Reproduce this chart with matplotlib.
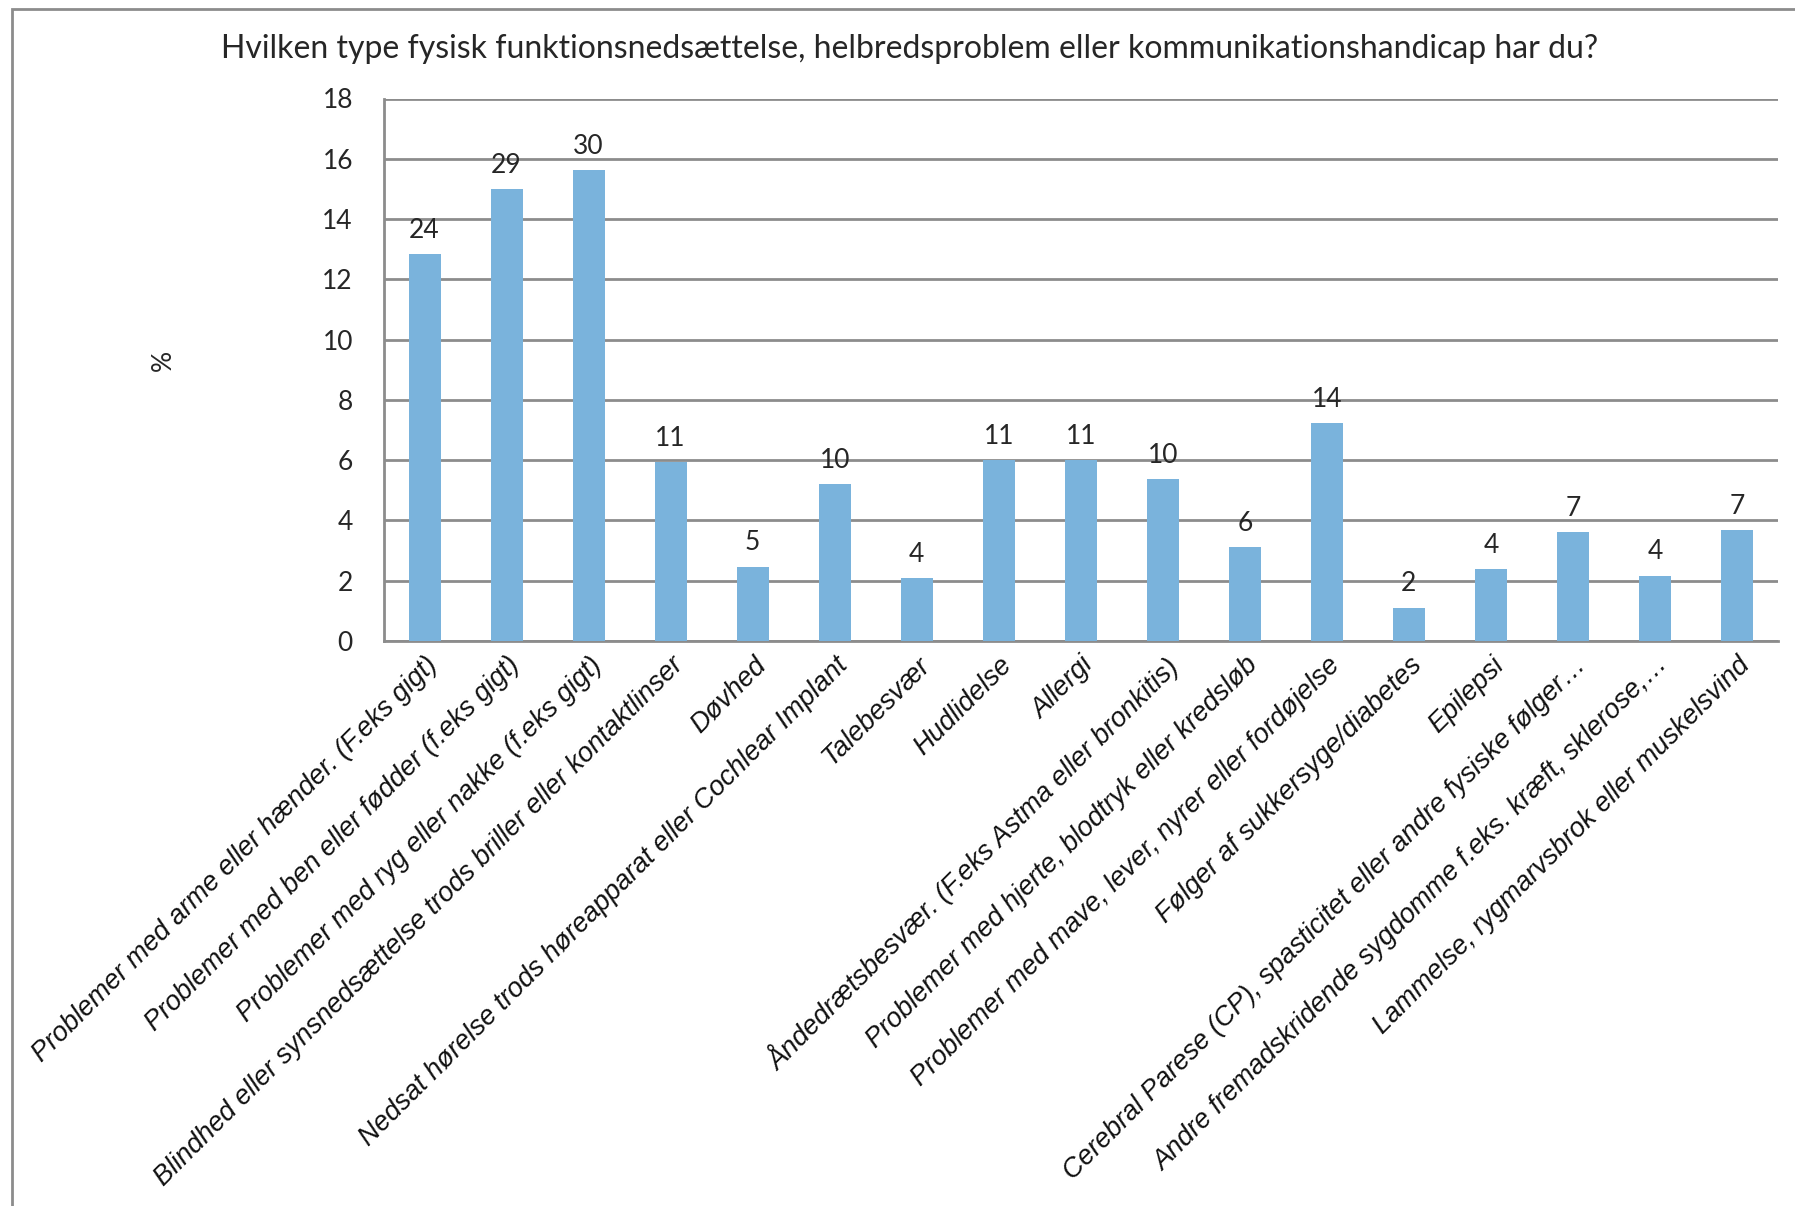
import matplotlib
matplotlib.use("Agg")
import matplotlib.pyplot as plt
from matplotlib.patches import Rectangle

# Answer categories, share of respondents (%) and number of answers per category
categories = [
    "Problemer med arme eller hænder. (F.eks gigt)",
    "Problemer med ben eller fødder (f.eks gigt)",
    "Problemer med ryg eller nakke (f.eks gigt)",
    "Blindhed eller synsnedsættelse trods briller eller kontaktlinser",
    "Døvhed",
    "Nedsat hørelse trods høreapparat eller Cochlear Implant",
    "Talebesvær",
    "Hudlidelse",
    "Allergi",
    "Åndedrætsbesvær. (F.eks Astma eller bronkitis)",
    "Problemer med hjerte, blodtryk eller kredsløb",
    "Problemer med mave, lever, nyrer eller fordøjelse",
    "Følger af sukkersyge/diabetes",
    "Epilepsi",
    "Cerebral Parese (CP), spasticitet eller andre fysiske følger…",
    "Andre fremadskridende sygdomme f.eks. kræft, sklerose,…",
    "Lammelse, rygmarvsbrok eller muskelsvind",
]
percent = [12.83, 15.0, 15.64, 5.93, 2.47, 5.2, 2.08, 6.01, 6.01,
           5.36, 3.12, 7.22, 1.11, 2.40, 3.61, 2.17, 3.67]
counts = [24, 29, 30, 11, 5, 10, 4, 11, 11, 10, 6, 14, 2, 4, 7, 4, 7]

title = "Hvilken type fysisk funktionsnedsættelse, helbredsproblem eller kommunikationshandicap har du?"
y_ticks = list(range(0, 19, 2))

BAR_COLOR = "#7AB3DC"
GRID_COLOR = "#8C8C8C"
TEXT_COLOR = "#262626"
THIN_FONT = "Lato"

fig = plt.figure(figsize=(17.95, 12.06), dpi=100)

# outer chart frame, only top and left edges fall inside the canvas
fig.patches.append(Rectangle((11.5 / 1795, -0.1), 1.2, (1206 - 9) / 1206 + 0.1,
                             transform=fig.transFigure, fill=False,
                             edgecolor="#8C8C8C", linewidth=2))

left, right = 383.5 / 1795, 1778 / 1795
bottom, top = 1 - 641 / 1206, 1 - 98.5 / 1206
ax = fig.add_axes([left, bottom, right - left, top - bottom])

x = list(range(len(categories)))
bars = ax.bar(x, percent, width=0.39, color=BAR_COLOR, zorder=3)

for rect, n in zip(bars, counts):
    ax.annotate(str(n), (rect.get_x() + rect.get_width() / 2, rect.get_height()),
                xytext=(0, 8), textcoords="offset points", ha="center", va="bottom",
                fontsize=19, family=THIN_FONT, color=TEXT_COLOR)

ax.set_xlim(-0.5, len(categories) - 0.5)
ax.set_ylim(0, 18)
ax.set_yticks(y_ticks)
ax.set_yticklabels([str(t) for t in y_ticks], fontsize=19, family=THIN_FONT,
                   color=TEXT_COLOR)
ax.yaxis.grid(True, color=GRID_COLOR, linewidth=2, zorder=0)
ax.tick_params(axis="y", length=0, pad=22)
ax.tick_params(axis="x", length=0, pad=8)

ax.set_xticks(x)
ax.set_xticklabels(categories, rotation=45, ha="right", rotation_mode="anchor",
                   fontsize=19.5, family="Liberation Sans", style="italic", color="#111111")

for side in ("top", "right"):
    ax.spines[side].set_visible(False)
ax.spines["left"].set_color(GRID_COLOR)
ax.spines["left"].set_linewidth(2)
ax.spines["bottom"].set_color(GRID_COLOR)
ax.spines["bottom"].set_linewidth(2)

fig.text(163 / 1795, 1 - 360 / 1206, "%", rotation=90, ha="center", va="center",
         fontsize=19, family=THIN_FONT, color=TEXT_COLOR)
fig.text(910 / 1795, 1 - 49 / 1206, title, ha="center", va="center",
         fontsize=23, family=THIN_FONT, color=TEXT_COLOR)

fig.savefig("out.png", dpi=100)
